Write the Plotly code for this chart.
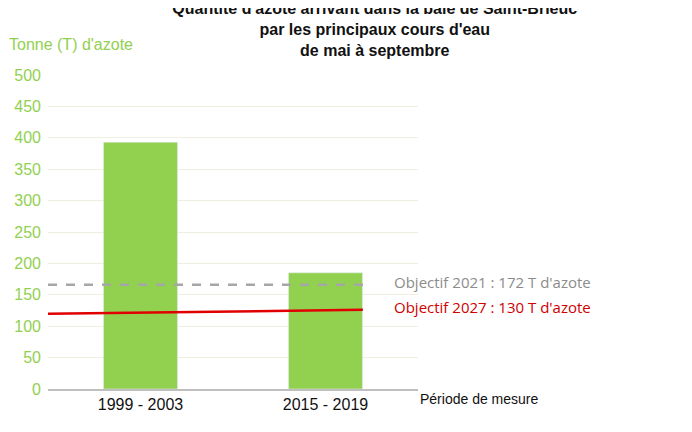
import plotly.graph_objects as go

# data
periods = ["1999 - 2003", "2015 - 2019"]
azote = [393, 185]
obj_2021 = [166, 166]
obj_2027 = [120, 126]
line_x = [0, 1]

GREEN = "#92D050"

fig = go.Figure()
fig.add_trace(go.Bar(x=periods, y=azote, marker_color=GREEN, width=0.4))

fig.add_trace(go.Scatter(x=line_x, y=obj_2021, xaxis="x2", mode="lines",
                         line=dict(color="#A6A6A6", width=2.5, dash="dash")))
fig.add_trace(go.Scatter(x=line_x, y=obj_2027, xaxis="x2", mode="lines",
                         line=dict(color="#E00000", width=2.5)))

fig.update_layout(
    width=692, height=432,
    margin=dict(l=40, r=282, t=67, b=51, autoexpand=False),
    plot_bgcolor="white", paper_bgcolor="white",
    showlegend=False,
    font=dict(family="Liberation Sans, Arial", size=16, color="#222"),
    title=dict(
        text="<b>Quantité d'azote arrivant dans la baie de Saint-Brieuc<br>par les principaux cours d'eau<br>de mai à septembre</b>",
        x=0.53, xanchor="center", y=0.985, yanchor="top",
        font=dict(size=16, color="#111")),
    xaxis=dict(showline=True, linecolor="#BFBFBF", linewidth=1.5,
               ticks="", tickfont=dict(size=16, color="#111")),
    xaxis2=dict(overlaying="x", range=[0, 1.175], visible=False),
    yaxis=dict(range=[0, 500], dtick=50, gridcolor="#EFEFE0",
               zeroline=False, tickfont=dict(size=16, color=GREEN),
               ticklabelstandoff=6),
)

fig.add_annotation(text="Tonne (T) d'azote", xref="paper", yref="paper",
                   x=-0.11, y=1.13, xanchor="left", showarrow=False,
                   font=dict(size=16, color=GREEN))
fig.add_annotation(text="Période de mesure", xref="paper", yref="paper",
                   x=1.0, y=0, xanchor="left", yanchor="top", showarrow=False,
                   font=dict(size=14, color="#111"))
fig.add_annotation(text="Objectif 2021 : 172 T d'azote", xref="paper", yref="y",
                   x=0.93, y=obj_2021[1] + 4, xanchor="left", showarrow=False,
                   font=dict(family="Open Sans, Lato", size=15, color="#8C8C8C"))
fig.add_annotation(text="Objectif 2027 : 130 T d'azote", xref="paper", yref="y",
                   x=0.93, y=obj_2027[1] + 4, xanchor="left", showarrow=False,
                   font=dict(family="Open Sans, Lato", size=15, color="#D00000"))

fig.write_html("out.html")
